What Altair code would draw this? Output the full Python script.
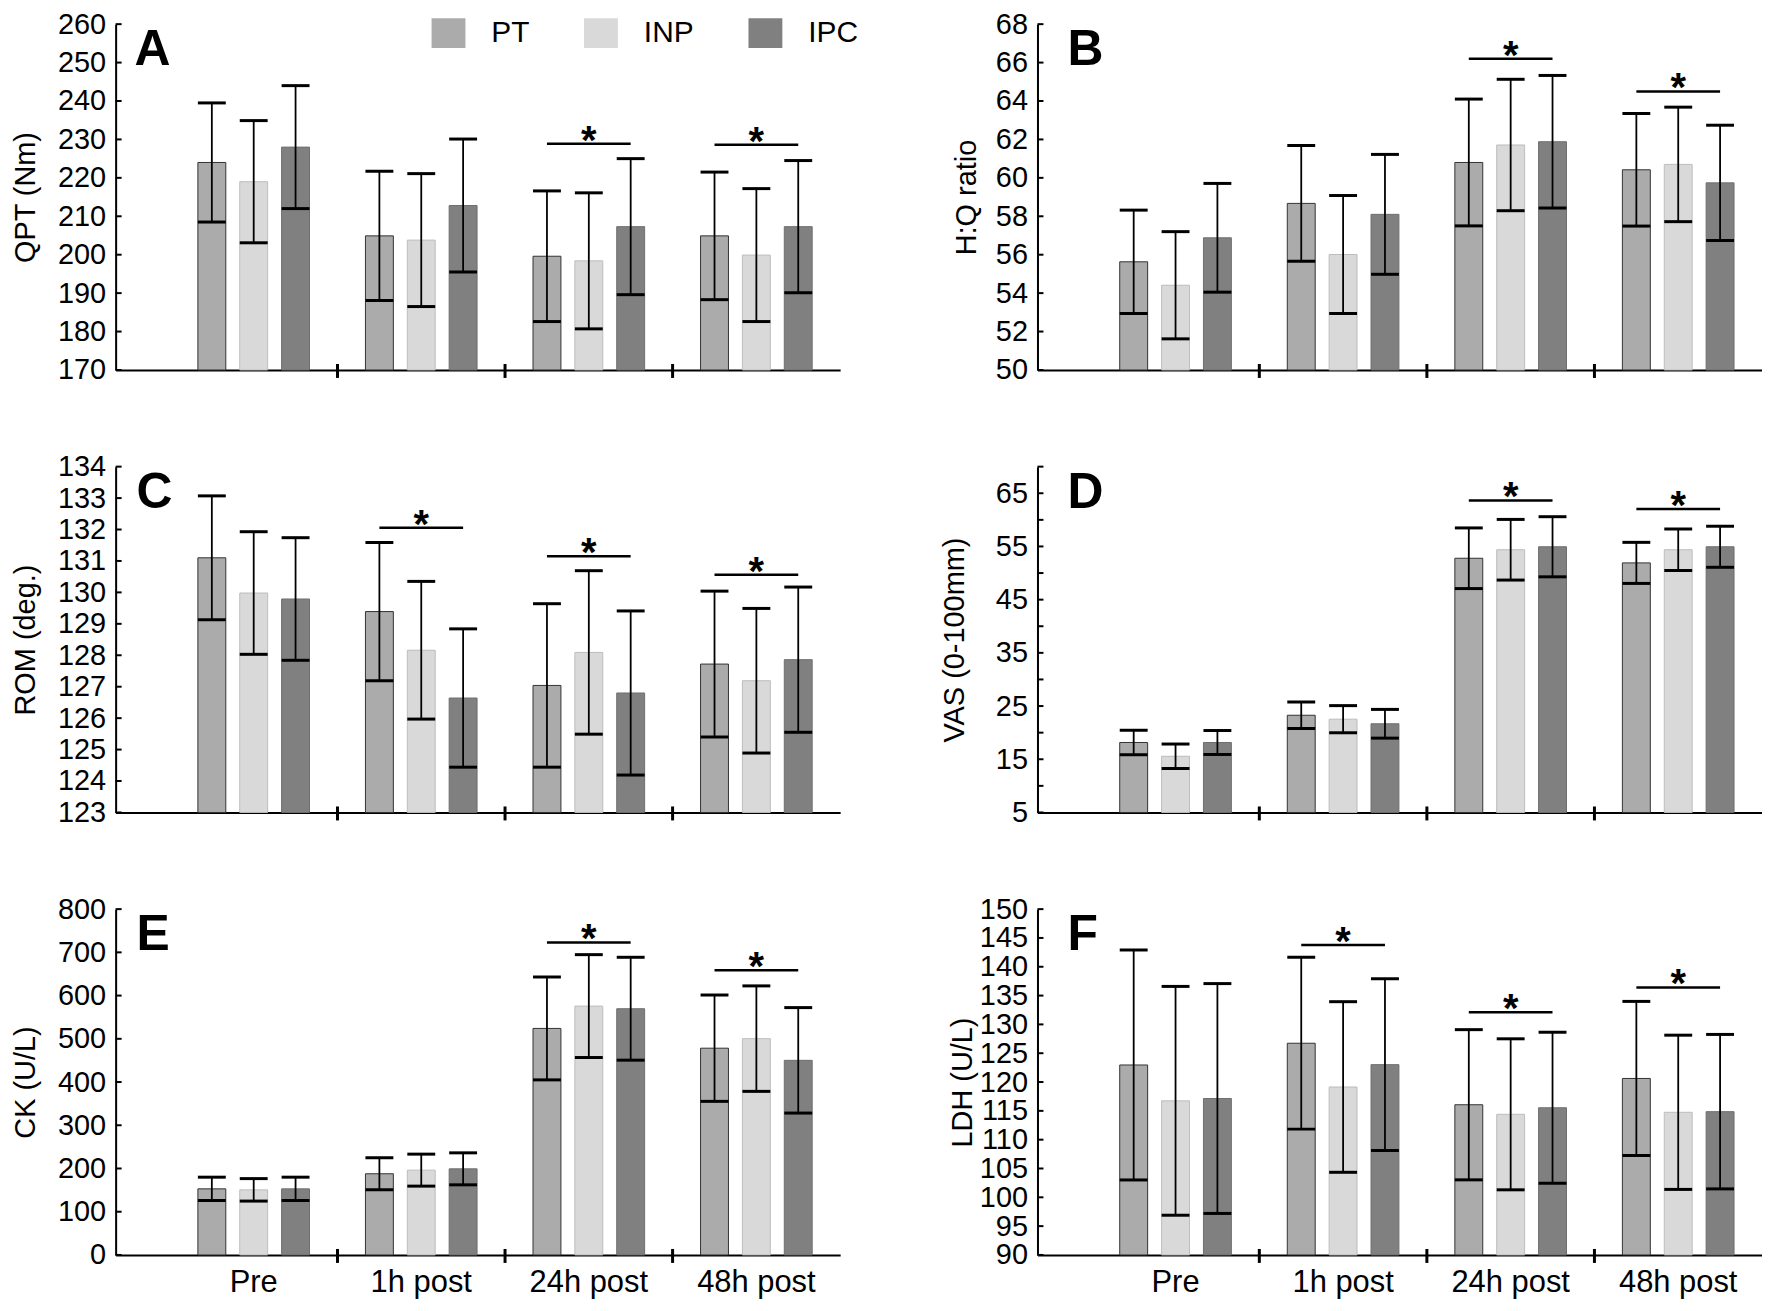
import altair as alt
import pandas as pd

FONT = "Liberation Sans"

times = ["Pre", "1h post", "24h post", "48h post"]
groups = ["PT", "INP", "IPC"]
sep_times = ["1h post", "24h post", "48h post"]

# ---- Panel A: QPT (Nm)
A_mean = {"PT": [224.0, 204.9, 199.6, 204.9], "INP": [219.0, 203.8, 198.4, 199.9], "IPC": [228.0, 212.8, 207.3, 207.3]}
A_sd = {"PT": [15.5, 16.8, 17.0, 16.6], "INP": [15.9, 17.3, 17.7, 17.3], "IPC": [16.0, 17.3, 17.7, 17.2]}
A_sig_t = ["24h post", "48h post"]
A_sig_y = [228.9, 228.6]
A_labels = [170, 180, 190, 200, 210, 220, 230, 240, 250, 260]
A_ticks = [170, 180, 190, 200, 210, 220, 230, 240, 250, 260]

# ---- Panel B: H:Q ratio
B_mean = {"PT": [55.63, 58.67, 60.80, 60.42], "INP": [54.41, 56.01, 61.71, 60.70], "IPC": [56.88, 58.10, 61.88, 59.74]}
B_sd = {"PT": [2.69, 3.01, 3.30, 2.93], "INP": [2.79, 3.07, 3.42, 2.98], "IPC": [2.83, 3.12, 3.45, 3.00]}
B_sig_t = ["24h post", "48h post"]
B_sig_y = [66.2, 64.5]
B_labels = [50, 52, 54, 56, 58, 60, 62, 64, 66, 68]
B_ticks = [50, 52, 54, 56, 58, 60, 62, 64, 66, 68]

# ---- Panel C: ROM (deg.)
C_mean = {"PT": [131.10, 129.39, 127.04, 127.72], "INP": [129.98, 128.16, 128.09, 127.19], "IPC": [129.79, 126.64, 126.80, 127.86]}
C_sd = {"PT": [1.97, 2.20, 2.60, 2.32], "INP": [1.95, 2.19, 2.60, 2.30], "IPC": [1.95, 2.20, 2.61, 2.31]}
C_sig_t = ["1h post", "24h post", "48h post"]
C_sig_y = [132.06, 131.15, 130.56]
C_labels = [123, 124, 125, 126, 127, 128, 129, 130, 131, 132, 133, 134]
C_ticks = [123, 124, 125, 126, 127, 128, 129, 130, 131, 132, 133, 134]

# ---- Panel D: VAS (0-100mm)
D_mean = {"PT": [18.15, 23.27, 52.78, 51.91], "INP": [15.56, 22.53, 54.38, 54.38], "IPC": [18.15, 21.67, 54.94, 54.94]}
D_sd = {"PT": [2.30, 2.50, 5.70, 3.86], "INP": [2.30, 2.55, 5.70, 3.90], "IPC": [2.25, 2.70, 5.65, 3.86]}
D_sig_t = ["24h post", "48h post"]
D_sig_y = [63.64, 62.04]
D_labels = [5, 15, 25, 35, 45, 55, 65]
D_ticks = [5, 10, 15, 20, 25, 30, 35, 40, 45, 50, 55, 60, 65, 70]

# ---- Panel E: CK (U/L)
E_mean = {"PT": [152.9, 187.8, 524.0, 478.3], "INP": [150.6, 196.2, 575.7, 500.4], "IPC": [152.9, 199.2, 569.6, 450.2]}
E_sd = {"PT": [27, 37, 119, 123], "INP": [26, 37, 119, 122], "IPC": [27, 37, 119, 122]}
E_sig_t = ["24h post", "48h post"]
E_sig_y = [723, 658.6]
E_labels = [0, 100, 200, 300, 400, 500, 600, 700, 800]
E_ticks = [0, 100, 200, 300, 400, 500, 600, 700, 800]

# ---- Panel F: LDH (U/L)
F_mean = {"PT": [122.96, 126.73, 116.06, 120.62], "INP": [116.74, 119.14, 114.40, 114.75], "IPC": [117.14, 123.02, 115.54, 114.86]}
F_sd = {"PT": [19.95, 14.90, 13.03, 13.37], "INP": [19.85, 14.80, 13.10, 13.38], "IPC": [19.94, 14.90, 13.10, 13.40]}
F_sig_t = ["1h post", "24h post", "48h post"]
F_sig_y = [143.78, 132.09, 136.42]
F_labels = [90, 95, 100, 105, 110, 115, 120, 125, 130, 135, 140, 145, 150]
F_ticks = [90, 95, 100, 105, 110, 115, 120, 125, 130, 135, 140, 145, 150]

fills = ["#ababab", "#d9d9d9", "#808080"]
strokes = ["#333333", "#bdbdbd", "#6e6e6e"]

W = 727
H = 347


def panel(letter, title, mean, sd, sig_t, sig_y, ymin, ymax, label_vals, tick_vals,
          extent, letter_dx, bottom, legend):
    rows = []
    for g in groups:
        for t, m, s in zip(times, mean[g], sd[g]):
            rows.append(dict(time=t, group=g, mean=m, lo=m - s, hi=m + s))
    df = pd.DataFrame(rows)
    caps = pd.concat([df.assign(v=df["lo"]), df.assign(v=df["hi"])], ignore_index=True)
    sig = pd.DataFrame({"time": sig_t, "y": sig_y})
    ticks = pd.DataFrame({"v": tick_vals})
    seps = pd.DataFrame({"time": sep_times})
    lab = pd.DataFrame({"t": [letter]})

    xscale = alt.Scale(domain=times, paddingInner=0, paddingOuter=0.162, align=1)
    xaxis = alt.Axis(title=None, labels=bottom, ticks=False, domain=True, domainWidth=2,
                     domainColor="black", labelFontSize=31, labelPadding=13, labelAngle=0,
                     labelColor="black", labelFont=FONT, labelOverlap=False, grid=False)
    yscale = alt.Scale(domain=[ymin, ymax], nice=False, zero=False)
    yaxis = alt.Axis(title=title, values=label_vals, ticks=False, domain=True, domainWidth=2,
                     domainColor="black", labelFontSize=29, labelPadding=10, labelColor="black",
                     labelFont=FONT, labelOverlap=False, titleFont=FONT, titleFontSize=29,
                     titleFontWeight="normal", titleColor="black", titlePadding=0,
                     minExtent=extent, maxExtent=extent, grid=False)

    def X(**kw):
        return alt.X("time:N", scale=xscale, axis=xaxis, **kw)

    def Y(f):
        return alt.Y(f, scale=yscale, axis=yaxis)

    XO = alt.XOffset("group:N", scale=alt.Scale(domain=groups, paddingInner=1 / 3, paddingOuter=0.668))

    bars = alt.Chart(df).mark_bar(strokeWidth=1).encode(
        x=X(), xOffset=XO, y=Y("mean:Q"), y2=alt.datum(ymin),
        fill=alt.Fill("group:N", scale=alt.Scale(domain=groups, range=fills), legend=legend),
        stroke=alt.Stroke("group:N", scale=alt.Scale(domain=groups, range=strokes), legend=None),
    )
    stems = alt.Chart(df).mark_rule(color="black", strokeWidth=1.8).encode(
        x=X(), xOffset=XO, y=Y("lo:Q"), y2="hi:Q")
    capm = alt.Chart(caps).mark_tick(color="black", thickness=3, size=28, opacity=1).encode(
        x=X(), xOffset=XO, y=Y("v:Q"))
    sigline = alt.Chart(sig).mark_tick(color="black", thickness=2.5, size=84, opacity=1).encode(
        x=X(), y=Y("y:Q"))
    star = alt.Chart(sig).mark_text(text="*", fontSize=40, fontWeight="bold", baseline="alphabetic",
                                    dy=10, font=FONT, color="black").encode(x=X(), y=Y("y:Q"))
    inward = alt.Chart(ticks).mark_rule(color="black", strokeWidth=2).encode(
        y=Y("v:Q"), x=alt.value(0), x2=alt.value(6))
    sepm = alt.Chart(seps).mark_rule(color="black", strokeWidth=3).encode(
        x=X(bandPosition=0), y=alt.value(H - 6), y2=alt.value(H + 8))
    let = alt.Chart(lab).mark_text(fontSize=50, fontWeight="bold", align="left", baseline="alphabetic",
                                   font=FONT, color="black").encode(
        text="t:N", x=alt.value(letter_dx), y=alt.value(41))
    return alt.layer(bars, stems, capm, sigline, star, inward, sepm, let).properties(width=W, height=H)


legA = alt.Legend(orient="none", legendX=317, legendY=-8, direction="horizontal", title=None,
                  symbolType="M-1,-0.88H1V0.88H-1Z", symbolSize=1156, labelFontSize=30,
                  labelOffset=26, columnPadding=54, labelFont=FONT, labelColor="black",
                  symbolStrokeWidth=0, symbolOpacity=1)

pA = panel("A", "QPT (Nm)", A_mean, A_sd, A_sig_t, A_sig_y, 170, 260, A_labels, A_ticks, 75, 19, False, legA)
pB = panel("B", "H:Q ratio", B_mean, B_sd, B_sig_t, B_sig_y, 50, 68, B_labels, B_ticks, 56, 30, False, None)
pC = panel("C", "ROM (deg.)", C_mean, C_sd, C_sig_t, C_sig_y, 123, 134, C_labels, C_ticks, 75, 21, False, None)
pD = panel("D", "VAS (0-100mm)", D_mean, D_sd, D_sig_t, D_sig_y, 5, 70, D_labels, D_ticks, 68, 30, False, None)
pE = panel("E", "CK (U/L)", E_mean, E_sd, E_sig_t, E_sig_y, 0, 800, E_labels, E_ticks, 75, 21, True, None)
pF = panel("F", "LDH (U/L)", F_mean, F_sd, F_sig_t, F_sig_y, 90, 150, F_labels, F_ticks, 60, 30, True, None)

chart = alt.concat(pA, pB, pC, pD, pE, pF, columns=2, spacing={"row": 97, "column": 198},
                   bounds="flush").resolve_scale(
    fill="independent", stroke="independent"
).properties(
    padding={"left": 4, "top": 0, "right": 0, "bottom": 0}
).configure(font=FONT).configure_view(stroke=None)

chart.save("out.html", embed_options={"renderer": "svg", "actions": False})
